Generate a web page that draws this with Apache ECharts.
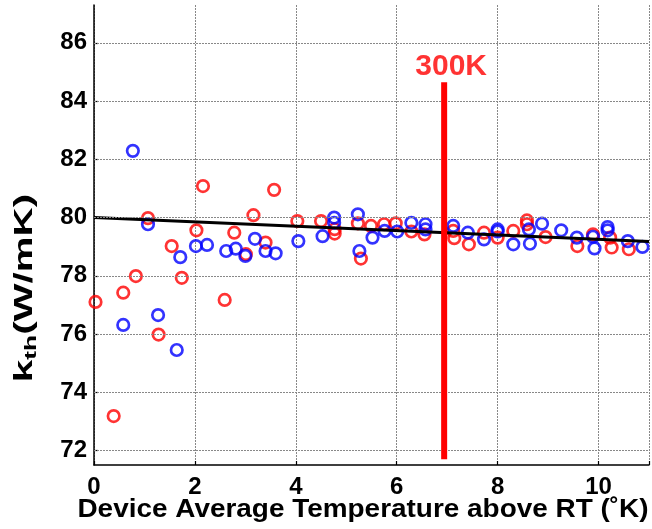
<!DOCTYPE html>
<html>
<head>
<meta charset="utf-8">
<script src="https://cdn.jsdelivr.net/npm/echarts@6/dist/echarts.min.js"></script>
<style>
  html, body { margin: 0; padding: 0; background: #fff; }
  #chart { width: 652px; height: 529px; }
</style>
</head>
<body>
<div id="chart"></div>
<script>
// Thermal conductivity vs. device temperature rise above room temperature
const redPoints = [
  [0.03, 77.10], [0.39, 73.18], [0.58, 77.42], [0.83, 77.99], [1.07, 79.98],
  [1.28, 75.98], [1.54, 79.02], [1.74, 77.93], [2.03, 79.56], [2.16, 81.08],
  [2.59, 77.17], [2.78, 79.48], [3.01, 78.74], [3.16, 80.08], [3.40, 79.14],
  [3.57, 80.95], [4.03, 79.88], [4.50, 79.88], [4.77, 79.60], [4.77, 79.45],
  [5.23, 79.80], [5.29, 78.59], [5.49, 79.71], [5.75, 79.77], [5.98, 79.80],
  [6.29, 79.52], [6.55, 79.42], [7.12, 79.54], [7.14, 79.29], [7.43, 79.08],
  [7.73, 79.48], [8.00, 79.31], [8.31, 79.54], [8.58, 79.90], [8.58, 79.77],
  [8.95, 79.33], [9.58, 79.02], [9.89, 79.42], [10.23, 79.31], [10.26, 78.97],
  [10.60, 78.91]
];
const bluePoints = [
  [0.58, 76.31], [0.77, 82.29], [1.07, 79.77], [1.27, 76.65], [1.64, 75.45],
  [1.71, 78.64], [2.02, 79.02], [2.24, 79.06], [2.62, 78.85], [2.81, 78.93],
  [3.00, 78.68], [3.19, 79.27], [3.40, 78.85], [3.60, 78.77], [4.05, 79.19],
  [4.53, 79.36], [4.76, 80.00], [4.76, 79.82], [5.23, 80.11], [5.26, 78.85],
  [5.52, 79.31], [5.76, 79.54], [6.01, 79.52], [6.29, 79.82], [6.57, 79.77],
  [6.57, 79.59], [7.12, 79.71], [7.41, 79.48], [7.73, 79.25], [8.00, 79.59],
  [8.00, 79.52], [8.31, 79.08], [8.62, 79.59], [8.64, 79.10], [8.88, 79.79],
  [9.26, 79.56], [9.57, 79.31], [9.89, 79.34], [9.92, 78.94], [10.18, 79.67],
  [10.18, 79.56], [10.58, 79.19], [10.87, 78.99]
];
// linear fit of k_th over the temperature range
const fitLine = [[0, 80.00], [11, 79.18]];
// room-temperature marker (300K)
const markerX = 6.94;
const markerSpan = [71.7, 84.65];
const markerText = '300K';

const xTicks = [0, 2, 4, 6, 8, 10];
const yTicks = [72, 74, 76, 78, 80, 82, 84, 86];

const FONT = '"Liberation Sans", Arial, sans-serif';

const chart = echarts.init(document.getElementById('chart'), null, { renderer: 'canvas' });

const circle = (color) => ({
  type: 'scatter',
  symbol: 'circle',
  symbolSize: 11.5,
  itemStyle: { color: 'rgba(0,0,0,0)', borderColor: color, borderWidth: 2.7 },
  silent: true,
  animation: false
});

const gridLine = { color: '#888', type: [2, 1], width: 1 };

chart.setOption({
  animation: false,
  backgroundColor: '#ffffff',
  grid: { left: 94, top: 5, width: 562, height: 460, containLabel: false },
  xAxis: {
    type: 'value',
    min: 0, max: 11, interval: 2,
    axisLine: { show: true, lineStyle: { color: '#000', width: 1.5 } },
    axisTick: { show: true, inside: true, length: 4, lineStyle: { color: '#000', width: 1.2 } },
    axisLabel: {
      color: '#000', fontFamily: FONT, fontWeight: 'bold', fontSize: 24, margin: 10,
      formatter: (v) => (xTicks.includes(v) ? String(v) : '')
    },
    splitLine: { show: true, lineStyle: gridLine }
  },
  yAxis: {
    type: 'value',
    min: 71.5, max: 87.3,
    axisLine: { show: true, lineStyle: { color: '#000', width: 1.5 } },
    axisTick: { show: true, inside: true, length: 4, customValues: yTicks, lineStyle: { color: '#000', width: 1.2 } },
    axisLabel: {
      color: '#000', fontFamily: FONT, fontWeight: 'bold', fontSize: 24, margin: 7,
      customValues: yTicks
    },
    splitLine: { show: false }
  },
  graphic: [
    {
      type: 'text',
      x: 25, y: 288,
      rotation: Math.PI / 2,
      scaleX: 1.55,
      style: {
        text: '{k|k}{s|th}{k|(W/mK)}',
        align: 'center', verticalAlign: 'middle',
        rich: {
          k: { fontFamily: FONT, fontWeight: 'bold', fontSize: 26, fill: '#000' },
          s: { fontFamily: FONT, fontWeight: 'bold', fontSize: 17, fill: '#000', verticalAlign: 'bottom', padding: [12, 0, 0, 0] }
        }
      }
    },
    {
      type: 'text',
      x: 363, y: 510,
      scaleX: 1.117,
      style: {
        text: 'Device Average Temperature above RT (\u02DAK)',
        fontFamily: FONT, fontWeight: 'bold', fontSize: 25, fill: '#000',
        align: 'center', verticalAlign: 'middle'
      }
    }
  ],
  series: [
    {
      // horizontal reference grid at the labelled k_th values
      type: 'line', name: 'ygrid', data: [], z: 1, silent: true,
      markLine: {
        silent: true, symbol: 'none', animation: false,
        label: { show: false },
        lineStyle: gridLine,
        data: yTicks.map((v) => ({ yAxis: v }))
      }
    },
    Object.assign(circle('#ff0000'), { name: 'red', data: redPoints, z: 2 }),
    Object.assign(circle('#0000ff'), { name: 'blue', data: bluePoints, z: 3 }),
    {
      type: 'line', name: 'fit', data: fitLine, showSymbol: false, symbol: 'none',
      lineStyle: { color: '#000', width: 3 }, z: 4, silent: true
    },
    {
      type: 'line', name: 'marker',
      data: [[markerX, markerSpan[0]], [markerX, markerSpan[1]]],
      showSymbol: false, symbol: 'none',
      lineStyle: { color: '#ff0000', width: 6, cap: 'butt' }, z: 5, silent: true,
      clip: false
    },
    {
      type: 'scatter', name: 'markerLabel',
      data: [[markerX, markerSpan[1]]],
      symbolSize: 0, silent: true, z: 6,
      label: {
        show: true, position: 'top', distance: 4, offset: [7, 4],
        formatter: markerText, color: '#ff0000',
        fontFamily: FONT, fontWeight: 'bold', fontSize: 30
      }
    }
  ]
});
</script>
</body>
</html>
